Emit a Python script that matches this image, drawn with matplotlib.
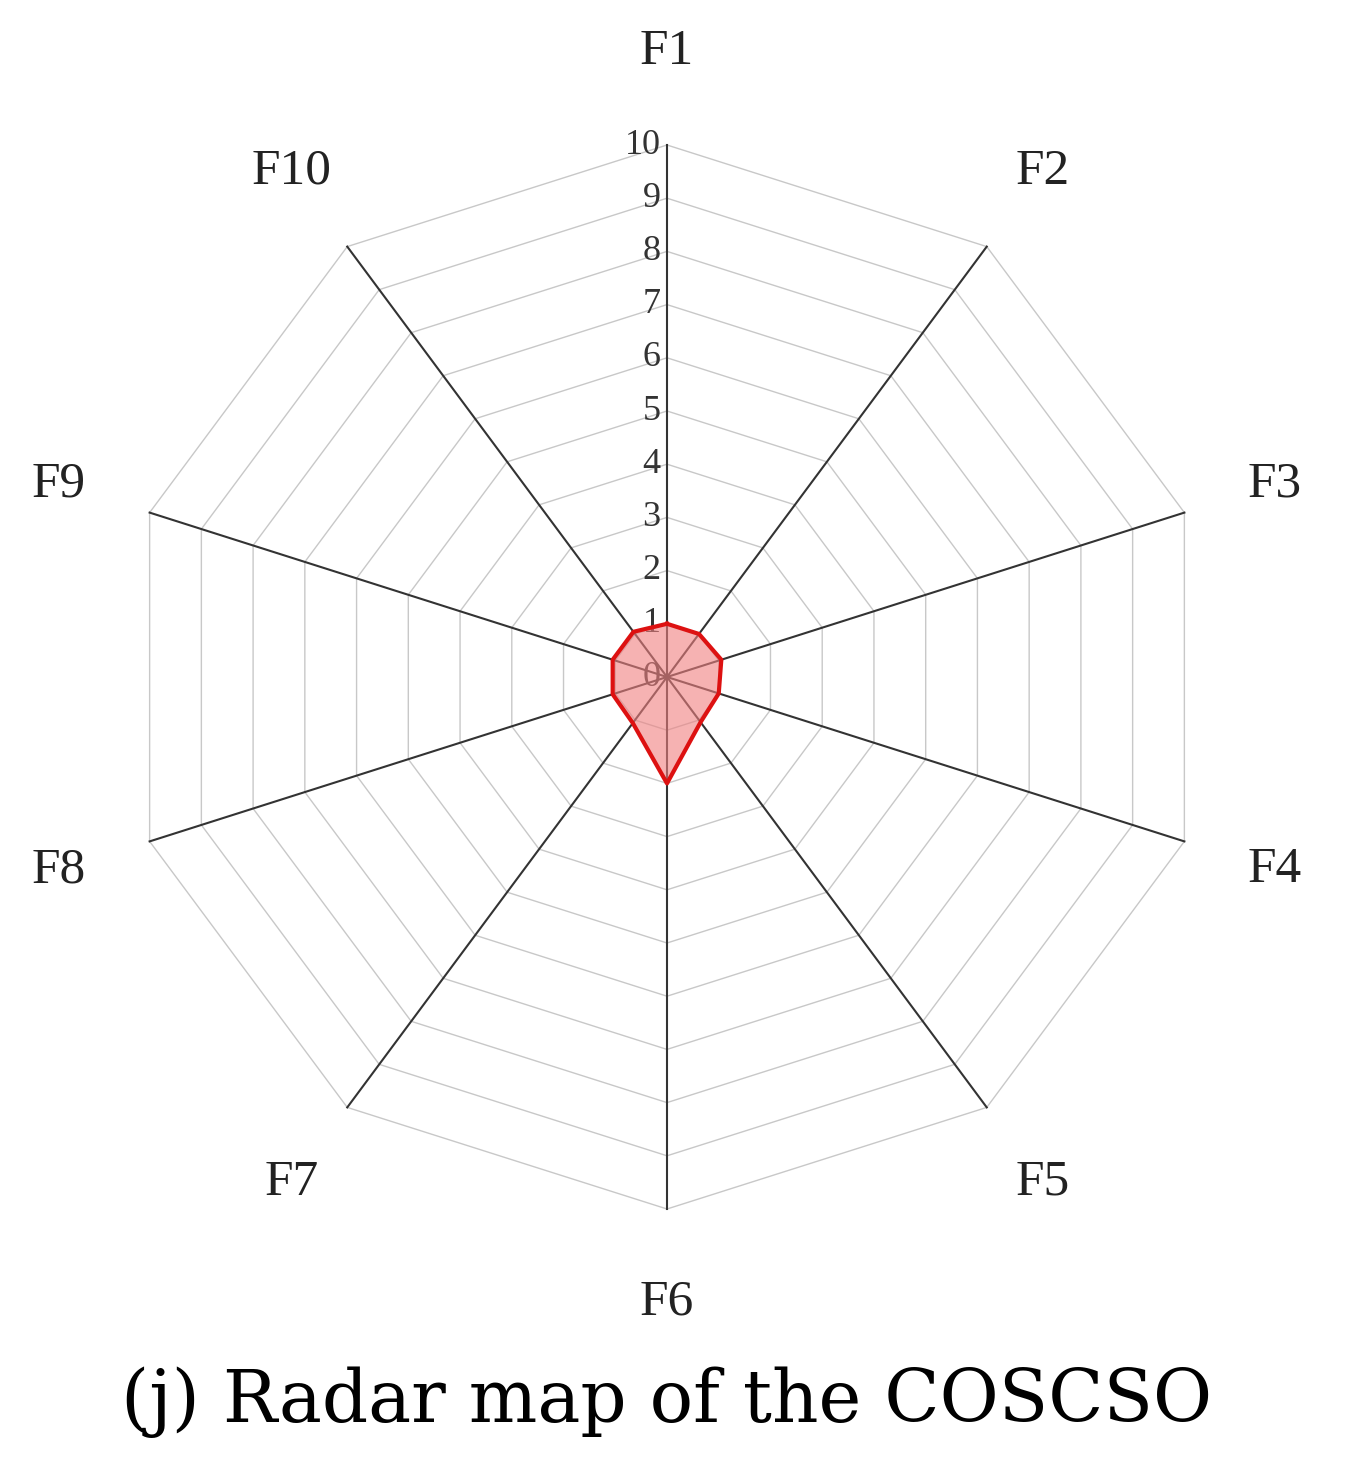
import numpy as np
import matplotlib
matplotlib.use('Agg')
from matplotlib import pyplot as plt

# данные
categories = ['F1', 'F2', 'F3', 'F4', 'F5', 'F6', 'F7', 'F8', 'F9', 'F10']
values = [1.0, 1.0, 1.05, 1.0, 1.05, 2.0, 1.07, 1.05, 1.05, 1.05]
ring_levels = list(range(0, 11))
caption = '(j) Radar map of the COSCSO'

W, H, DPI = 1352, 1480, 100
CX, CY = 667, 677
SX, SY = 54.4, 53.2  # пикселей на единицу по осям

fig = plt.figure(figsize=(W / DPI, H / DPI), dpi=DPI)
ax = fig.add_axes([0, 0, 1, 1])
ax.set_xlim(-CX / SX, (W - CX) / SX)
ax.set_ylim(-(H - CY) / SY, CY / SY)
ax.axis('off')

n = len(categories)
ang = np.pi / 2 - np.arange(n) * 2 * np.pi / n
cos_a, sin_a = np.cos(ang), np.sin(ang)

# кольца сетки
for r in ring_levels[1:]:
    ax.plot(np.append(r * cos_a, r * cos_a[0]), np.append(r * sin_a, r * sin_a[0]),
            color='#c8c8c8', lw=1.0, zorder=1)
# лучи
for c, s in zip(cos_a, sin_a):
    ax.plot([0, 10 * c], [0, 10 * s], color='#333333', lw=1.5, zorder=2)

# подписи шкалы
for r in ring_levels:
    ax.text(-0.12, r, str(r), ha='right', va='center', fontsize=26,
            family='Liberation Serif', color='#333333', zorder=3)

# подписи осей
for name, c, s in zip(categories, cos_a, sin_a):
    ax.text(11.75 * c, 11.75 * s, name, ha='center', va='center', fontsize=37,
            family='Liberation Serif', color='#222222')

v = np.array(values)
xs, ys = np.append(v * cos_a, v[0] * cos_a[0]), np.append(v * sin_a, v[0] * sin_a[0])
ax.fill(xs, ys, color='#f08080', alpha=0.6, zorder=4)
ax.plot(xs, ys, color='#dd1111', lw=3, zorder=5)

fig.text(CX / W, 1 - 1402 / H, caption, ha='center', va='center', fontsize=52,
         family='DejaVu Serif')

fig.savefig('out.png', dpi=DPI, facecolor='white')
